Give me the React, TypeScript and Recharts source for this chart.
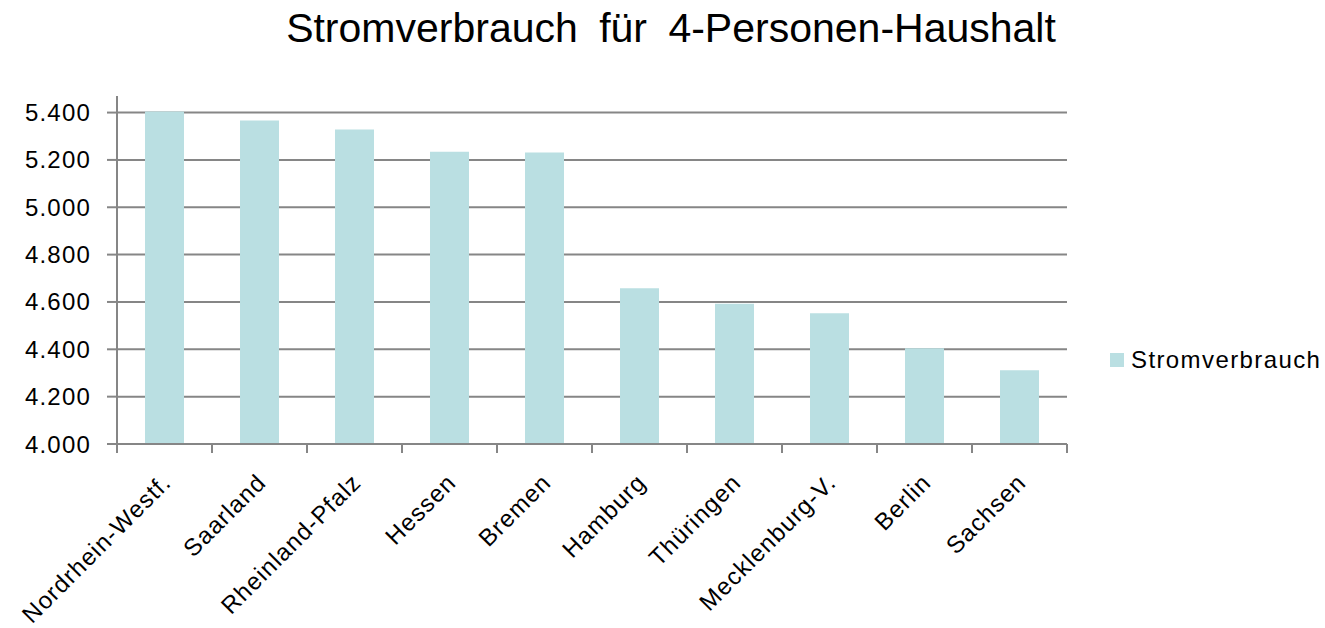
import { Bar, BarChart, CartesianGrid, Legend, XAxis, YAxis } from "recharts";

const categories = [
    "Nordrhein-Westf.",
    "Saarland",
    "Rheinland-Pfalz",
    "Hessen",
    "Bremen",
    "Hamburg",
    "Thüringen",
    "Mecklenburg-V.",
    "Berlin",
    "Sachsen",
];

const stromverbrauch = [5405, 5366, 5328, 5235, 5231, 4658, 4592, 4552, 4404, 4312];

const yTicks = [4000, 4200, 4400, 4600, 4800, 5000, 5200, 5400];

const TITLE = "Stromverbrauch für 4-Personen-Haushalt";
const SERIES = "Stromverbrauch";

const FONT = "'Liberation Sans', Arial, sans-serif";
const GRID = "#868686";
const BAR = "#BADFE2";

// plot area in page pixels
const PLOT_LEFT = 117;
const PLOT_RIGHT = 1067;
const PLOT_TOP = 96;
const PLOT_BOTTOM = 444;
const LEGEND_H = 24; // the legend still reserves its height at the bottom
const BAND = (PLOT_RIGHT - PLOT_LEFT) / categories.length;

const chartData = categories.map((name, i) => ({
    name,
    stromverbrauch: stromverbrauch[i],
}));

function formatDe(v: number) {
    const th = Math.floor(v / 1000);
    const rest = String(v % 1000).padStart(3, "0");
    return `${th}.${rest}`;
}

function CategoryTick(props: any) {
    const { x, y, payload, index } = props;
    const last = index === categories.length - 1;
    return (
        <g>
            <line x1={x - BAND / 2} x2={x - BAND / 2} y1={y} y2={y + 9} stroke={GRID} strokeWidth={2} />
            {last && (
                <line x1={x + BAND / 2} x2={x + BAND / 2} y1={y} y2={y + 9} stroke={GRID} strokeWidth={2} />
            )}
            <text
                transform={`translate(${x + 8},${y + 40}) rotate(-45)`}
                textAnchor="end"
                fontSize={24}
                letterSpacing={1.1}
                fontFamily={FONT}
                fill="#000"
            >
                {payload.value}
            </text>
        </g>
    );
}

function LegendBox() {
    return (
        <div style={{ display: "flex", alignItems: "center", fontFamily: FONT }}>
            <div style={{ width: 14, height: 14, background: BAR, marginRight: 7 }} />
            <span style={{ fontSize: 24, lineHeight: "24px", letterSpacing: 1.4, color: "#000" }}>
                {SERIES}
            </span>
        </div>
    );
}

export default function App() {
    return (
        <div style={{ position: "absolute", left: 0, top: 0, width: 1325, height: 628, background: "#fff" }}>
            <div
                style={{
                    position: "absolute",
                    left: 71,
                    top: 8,
                    width: 1200,
                    textAlign: "center",
                    fontFamily: FONT,
                    fontSize: 41,
                    lineHeight: "41px",
                    wordSpacing: 10,
                    color: "#000",
                }}
            >
                {TITLE}
            </div>
            <BarChart
                width={1325}
                height={628}
                data={chartData}
                margin={{ top: PLOT_TOP, right: 1325 - PLOT_RIGHT, left: 0, bottom: 0 }}
            >
                <CartesianGrid
                    horizontal
                    vertical={false}
                    stroke={GRID}
                    strokeWidth={2}
                    horizontalValues={yTicks}
                />
                <XAxis
                    dataKey="name"
                    interval={0}
                    height={628 - PLOT_BOTTOM - LEGEND_H}
                    axisLine={{ stroke: GRID, strokeWidth: 2 }}
                    tickLine={false}
                    tickSize={0}
                    tickMargin={0}
                    tick={<CategoryTick />}
                />
                <YAxis
                    width={PLOT_LEFT}
                    domain={[4000, 5470]}
                    ticks={yTicks}
                    interval={0}
                    allowDataOverflow
                    axisLine={{ stroke: GRID, strokeWidth: 2 }}
                    tickLine={{ stroke: GRID, strokeWidth: 2 }}
                    tickSize={10}
                    tickMargin={16}
                    tickFormatter={formatDe}
                    tick={{ fontSize: 24, fill: "#000", fontFamily: FONT, letterSpacing: 1.2 }}
                />
                <Legend
                    content={() => <LegendBox />}
                    wrapperStyle={{ position: "absolute", left: 1110, top: 348, width: 215, bottom: "auto" }}
                />
                <Bar dataKey="stromverbrauch" name={SERIES} fill={BAR} barSize={39} isAnimationActive={false} />
            </BarChart>
        </div>
    );
}
